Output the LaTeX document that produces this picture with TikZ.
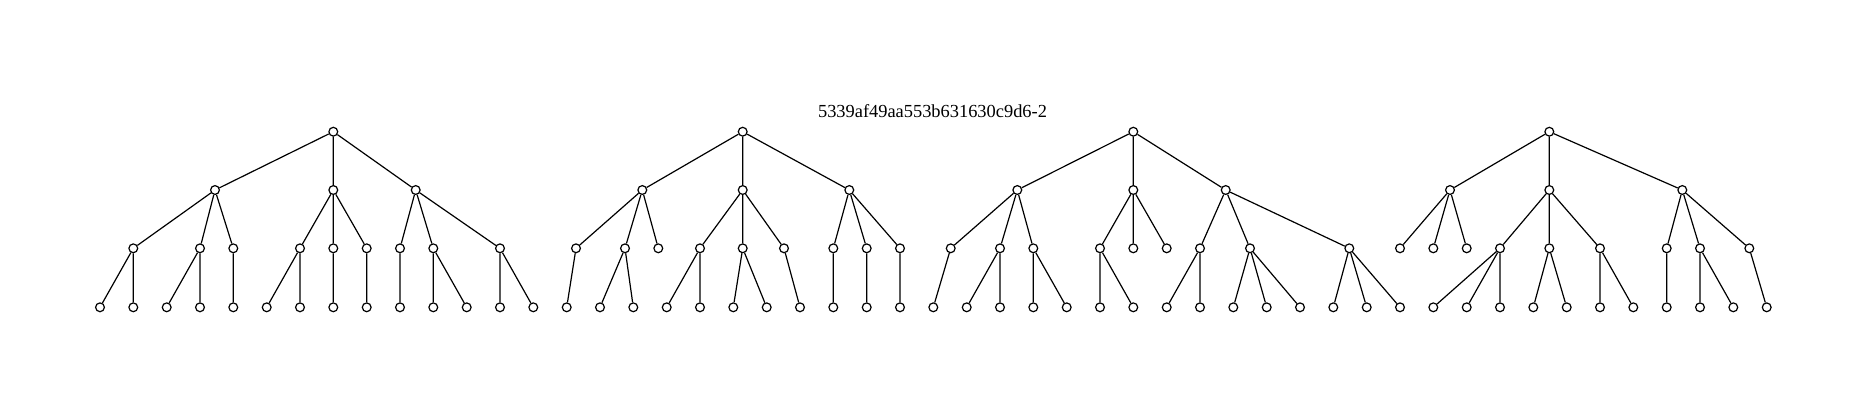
\documentclass[tikz,border=0pt]{standalone}
\usepackage{fontspec}
\setmainfont{Liberation Serif}
\begin{document}
\begin{tikzpicture}[x=0.5pt,y=-0.5pt,
  v/.style={circle,draw=black,fill=white,inner sep=0pt,minimum size=4.4pt,line width=0.6pt},
  e/.style={draw=black,line width=0.6pt}]
\useasboundingbox (0,0) rectangle (1867,409);
\node[anchor=base,font=\fontsize{9.2pt}{11pt}\selectfont] (title) at (932.5,117.3) {5339af49aa553b631630c9d6-2};
% ---------- tree 1 ----------
\node[v] (r1) at (333.3,131.7) {};
\node[v] (r1a) at (215,190) {};
\node[v] (r1b) at (333.3,190) {};
\node[v] (r1c) at (415.7,190) {};
\node[v] (r1aa) at (133.3,248.3) {};
\node[v] (r1ab) at (200,248.3) {};
\node[v] (r1ac) at (233.3,248.3) {};
\node[v] (r1ba) at (300,248.3) {};
\node[v] (r1bb) at (333.3,248.3) {};
\node[v] (r1bc) at (366.7,248.3) {};
\node[v] (r1ca) at (400,248.3) {};
\node[v] (r1cb) at (433.3,248.3) {};
\node[v] (r1cc) at (500,248.3) {};
\node[v] (r1aa1) at (100,307.3) {};
\node[v] (r1aa2) at (133.3,307.3) {};
\node[v] (r1ab1) at (166.7,307.3) {};
\node[v] (r1ab2) at (200,307.3) {};
\node[v] (r1ac1) at (233.3,307.3) {};
\node[v] (r1ba1) at (266.7,307.3) {};
\node[v] (r1ba2) at (300,307.3) {};
\node[v] (r1bb1) at (333.3,307.3) {};
\node[v] (r1bc1) at (366.7,307.3) {};
\node[v] (r1ca1) at (400,307.3) {};
\node[v] (r1cb1) at (433.3,307.3) {};
\node[v] (r1cb2) at (466.7,307.3) {};
\node[v] (r1cc1) at (500,307.3) {};
\node[v] (r1cc2) at (533.3,307.3) {};
\path[e] (r1)--(r1a) (r1)--(r1b) (r1)--(r1c)
  (r1a)--(r1aa) (r1a)--(r1ab) (r1a)--(r1ac)
  (r1b)--(r1ba) (r1b)--(r1bb) (r1b)--(r1bc)
  (r1c)--(r1ca) (r1c)--(r1cb) (r1c)--(r1cc)
  (r1aa)--(r1aa1) (r1aa)--(r1aa2) (r1ab)--(r1ab1) (r1ab)--(r1ab2) (r1ac)--(r1ac1)
  (r1ba)--(r1ba1) (r1ba)--(r1ba2) (r1bb)--(r1bb1) (r1bc)--(r1bc1)
  (r1ca)--(r1ca1) (r1cb)--(r1cb1) (r1cb)--(r1cb2) (r1cc)--(r1cc1) (r1cc)--(r1cc2);
% ---------- tree 2 ----------
\node[v] (r2) at (742.7,131.7) {};
\node[v] (r2a) at (642.3,190) {};
\node[v] (r2b) at (742.7,190) {};
\node[v] (r2c) at (849.3,190) {};
\node[v] (r2aa) at (576,248.3) {};
\node[v] (r2ab) at (625,248.3) {};
\node[v] (r2ac) at (658.3,248.3) {};
\node[v] (r2ba) at (700,248.3) {};
\node[v] (r2bb) at (742.7,248.3) {};
\node[v] (r2bc) at (784,248.3) {};
\node[v] (r2ca) at (833.3,248.3) {};
\node[v] (r2cb) at (866.7,248.3) {};
\node[v] (r2cc) at (900,248.3) {};
\node[v] (r2aa1) at (566.7,307.3) {};
\node[v] (r2ab1) at (600,307.3) {};
\node[v] (r2ab2) at (633.3,307.3) {};
\node[v] (r2ba1) at (666.7,307.3) {};
\node[v] (r2ba2) at (700,307.3) {};
\node[v] (r2bb1) at (733.3,307.3) {};
\node[v] (r2bb2) at (766.7,307.3) {};
\node[v] (r2bc1) at (800,307.3) {};
\node[v] (r2ca1) at (833.3,307.3) {};
\node[v] (r2cb1) at (866.7,307.3) {};
\node[v] (r2cc1) at (900,307.3) {};
\path[e] (r2)--(r2a) (r2)--(r2b) (r2)--(r2c)
  (r2a)--(r2aa) (r2a)--(r2ab) (r2a)--(r2ac)
  (r2b)--(r2ba) (r2b)--(r2bb) (r2b)--(r2bc)
  (r2c)--(r2ca) (r2c)--(r2cb) (r2c)--(r2cc)
  (r2aa)--(r2aa1) (r2ab)--(r2ab1) (r2ab)--(r2ab2)
  (r2ba)--(r2ba1) (r2ba)--(r2ba2) (r2bb)--(r2bb1) (r2bb)--(r2bb2) (r2bc)--(r2bc1)
  (r2ca)--(r2ca1) (r2cb)--(r2cb1) (r2cc)--(r2cc1);
% ---------- tree 3 ----------
\node[v] (r3) at (1133.3,131.7) {};
\node[v] (r3a) at (1017.3,190) {};
\node[v] (r3b) at (1133.3,190) {};
\node[v] (r3c) at (1225.7,190) {};
\node[v] (r3aa) at (950.7,248.3) {};
\node[v] (r3ab) at (1000,248.3) {};
\node[v] (r3ac) at (1033.3,248.3) {};
\node[v] (r3ba) at (1100,248.3) {};
\node[v] (r3bb) at (1133.3,248.3) {};
\node[v] (r3bc) at (1166.7,248.3) {};
\node[v] (r3ca) at (1200,248.3) {};
\node[v] (r3cb) at (1250,248.3) {};
\node[v] (r3cc) at (1349.3,248.3) {};
\node[v] (r3aa1) at (933.3,307.3) {};
\node[v] (r3ab1) at (966.7,307.3) {};
\node[v] (r3ab2) at (1000,307.3) {};
\node[v] (r3ac1) at (1033.3,307.3) {};
\node[v] (r3ac2) at (1066.7,307.3) {};
\node[v] (r3ba1) at (1100,307.3) {};
\node[v] (r3ba2) at (1133.3,307.3) {};
\node[v] (r3ca1) at (1166.7,307.3) {};
\node[v] (r3ca2) at (1200,307.3) {};
\node[v] (r3cb1) at (1233.3,307.3) {};
\node[v] (r3cb2) at (1266.7,307.3) {};
\node[v] (r3cb3) at (1300,307.3) {};
\node[v] (r3cc1) at (1333.3,307.3) {};
\node[v] (r3cc2) at (1366.7,307.3) {};
\node[v] (r3cc3) at (1400,307.3) {};
\path[e] (r3)--(r3a) (r3)--(r3b) (r3)--(r3c)
  (r3a)--(r3aa) (r3a)--(r3ab) (r3a)--(r3ac)
  (r3b)--(r3ba) (r3b)--(r3bb) (r3b)--(r3bc)
  (r3c)--(r3ca) (r3c)--(r3cb) (r3c)--(r3cc)
  (r3aa)--(r3aa1) (r3ab)--(r3ab1) (r3ab)--(r3ab2) (r3ac)--(r3ac1) (r3ac)--(r3ac2)
  (r3ba)--(r3ba1) (r3ba)--(r3ba2)
  (r3ca)--(r3ca1) (r3ca)--(r3ca2)
  (r3cb)--(r3cb1) (r3cb)--(r3cb2) (r3cb)--(r3cb3)
  (r3cc)--(r3cc1) (r3cc)--(r3cc2) (r3cc)--(r3cc3);
% ---------- tree 4 ----------
\node[v] (r4) at (1549.3,131.7) {};
\node[v] (r4a) at (1450,190) {};
\node[v] (r4b) at (1549.3,190) {};
\node[v] (r4c) at (1682.3,190) {};
\node[v] (r4aa) at (1400,248.3) {};
\node[v] (r4ab) at (1433.3,248.3) {};
\node[v] (r4ac) at (1466.7,248.3) {};
\node[v] (r4ba) at (1500,248.3) {};
\node[v] (r4bb) at (1549.3,248.3) {};
\node[v] (r4bc) at (1600,248.3) {};
\node[v] (r4ca) at (1666.7,248.3) {};
\node[v] (r4cb) at (1700,248.3) {};
\node[v] (r4cc) at (1749.3,248.3) {};
\node[v] (r4ba1) at (1433.3,307.3) {};
\node[v] (r4ba2) at (1466.7,307.3) {};
\node[v] (r4ba3) at (1500,307.3) {};
\node[v] (r4bb1) at (1533.3,307.3) {};
\node[v] (r4bb2) at (1566.7,307.3) {};
\node[v] (r4bc1) at (1600,307.3) {};
\node[v] (r4bc2) at (1633.3,307.3) {};
\node[v] (r4ca1) at (1666.7,307.3) {};
\node[v] (r4cb1) at (1700,307.3) {};
\node[v] (r4cb2) at (1733.3,307.3) {};
\node[v] (r4cc1) at (1766.7,307.3) {};
\path[e] (r4)--(r4a) (r4)--(r4b) (r4)--(r4c)
  (r4a)--(r4aa) (r4a)--(r4ab) (r4a)--(r4ac)
  (r4b)--(r4ba) (r4b)--(r4bb) (r4b)--(r4bc)
  (r4c)--(r4ca) (r4c)--(r4cb) (r4c)--(r4cc)
  (r4ba)--(r4ba1) (r4ba)--(r4ba2) (r4ba)--(r4ba3)
  (r4bb)--(r4bb1) (r4bb)--(r4bb2)
  (r4bc)--(r4bc1) (r4bc)--(r4bc2)
  (r4ca)--(r4ca1) (r4cb)--(r4cb1) (r4cb)--(r4cb2) (r4cc)--(r4cc1);
\end{tikzpicture}
\end{document}
